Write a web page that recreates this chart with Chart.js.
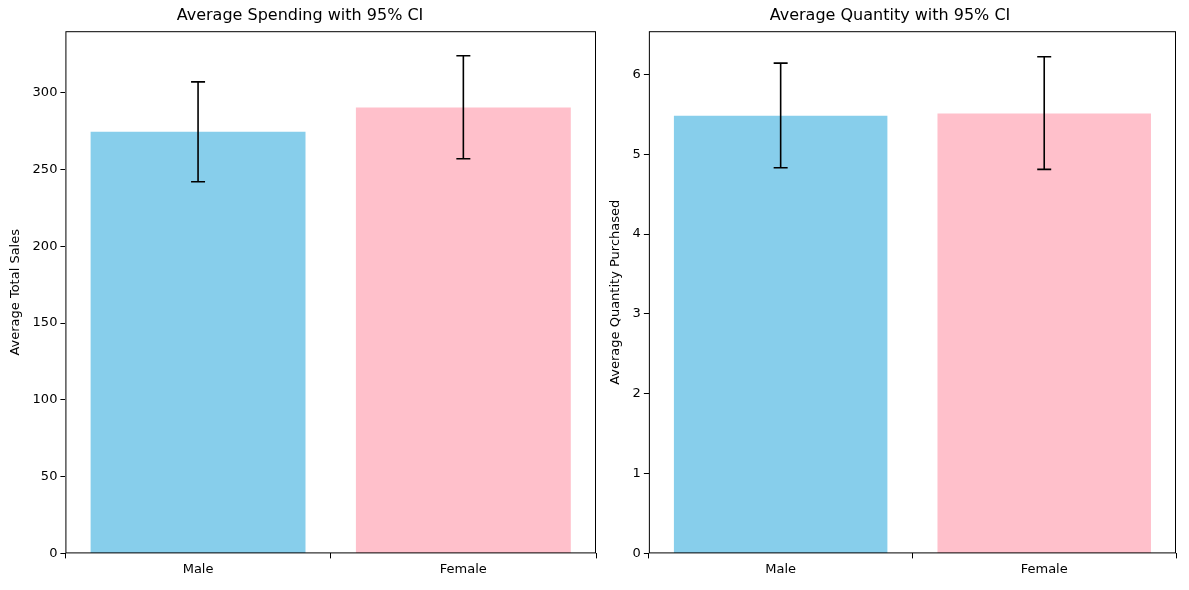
<!DOCTYPE html>
<html>
<head>
<meta charset="utf-8">
<script src="https://cdn.jsdelivr.net/npm/chart.js@4"></script>
<style>
  body { margin: 0; background: #fff; }
  .box { position: absolute; top: 0; height: 590px; }
</style>
</head>
<body>
<div class="box" style="left:0;width:600px"><canvas id="gastoChart"></canvas></div>
<div class="box" style="left:600px;width:589px"><canvas id="qtdChart"></canvas></div>
<script>
const categorias = ['Male', 'Female'];
const cores = ['#87CEEB', '#FFC0CB'];

const gastoMedio = [274.5, 290.3];
const gastoInf = [242, 257];
const gastoSup = [307, 324];
const gastoTicks = [0, 50, 100, 150, 200, 250, 300];

const qtdMedia = [5.48, 5.51];
const qtdInf = [4.83, 4.81];
const qtdSup = [6.14, 6.22];
const qtdTicks = [0, 1, 2, 3, 4, 5, 6];

Chart.defaults.font.family = 'DejaVu Sans';
Chart.defaults.color = '#000';

// barras de erro + moldura
const errorBars = {
  id: 'errorBars',
  afterDatasetsDraw(chart, args, opts) {
    const { ctx, chartArea: a, scales: { x, y } } = chart;
    ctx.save();
    ctx.strokeStyle = '#000';
    ctx.lineWidth = 1;
    ctx.strokeRect(a.left + 0.5, a.top + 0.5, a.width - 1, a.height - 1);
    ctx.lineWidth = 1.6;
    opts.inf.forEach((lo, i) => {
      const px = x.getPixelForValue(i);
      const y1 = y.getPixelForValue(lo);
      const y2 = y.getPixelForValue(opts.sup[i]);
      ctx.beginPath();
      ctx.moveTo(px, y1); ctx.lineTo(px, y2);
      ctx.moveTo(px - 7, y1); ctx.lineTo(px + 7, y1);
      ctx.moveTo(px - 7, y2); ctx.lineTo(px + 7, y2);
      ctx.stroke();
    });
    ctx.restore();
  }
};

function criarGrafico(id, titulo, eixoY, valores, inf, sup, ticks, max, pad) {
  new Chart(document.getElementById(id), {
    type: 'bar',
    data: {
      labels: categorias,
      datasets: [{
        data: valores,
        backgroundColor: cores,
        barPercentage: 0.81,
        categoryPercentage: 1
      }]
    },
    options: {
      responsive: true,
      maintainAspectRatio: false,
      animation: false,
      layout: { padding: pad },
      plugins: {
        legend: { display: false },
        tooltip: { enabled: false },
        title: { display: true, text: titulo, font: { size: 16, weight: 'normal' }, padding: { top: 6, bottom: 6 } },
        errorBars: { inf, sup }
      },
      scales: {
        x: {
          grid: { display: true, drawOnChartArea: false, color: '#000', tickLength: 5, offset: true },
          border: { display: false },
          ticks: { font: { size: 13 }, padding: 3 }
        },
        y: {
          min: 0,
          max: max,
          afterBuildTicks: ax => { ax.ticks = ticks.map(v => ({ value: v })); },
          grid: { display: true, drawOnChartArea: false, color: '#000', tickLength: 5 },
          border: { display: false },
          ticks: { font: { size: 13 }, padding: 3 },
          title: { display: true, text: eixoY, font: { size: 13 }, padding: { bottom: 6 } }
        }
      }
    },
    plugins: [errorBars]
  });
}

criarGrafico('gastoChart', 'Average Spending with 95% CI', 'Average Total Sales',
  gastoMedio, gastoInf, gastoSup, gastoTicks, 340, { left: 4, right: 4, bottom: 10 });
criarGrafico('qtdChart', 'Average Quantity with 95% CI', 'Average Quantity Purchased',
  qtdMedia, qtdInf, qtdSup, qtdTicks, 6.54, { left: 4, right: 13, bottom: 10 });
</script>
</body>
</html>
